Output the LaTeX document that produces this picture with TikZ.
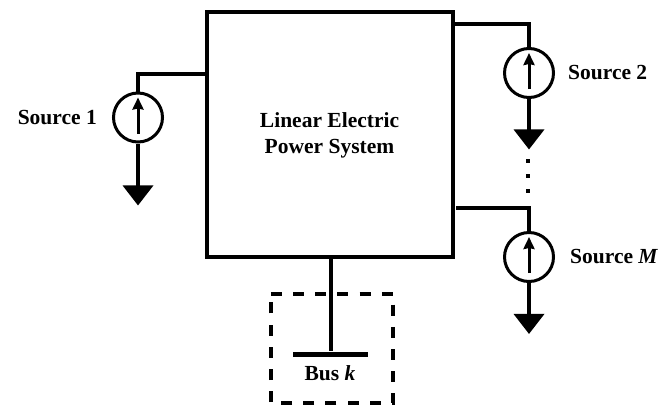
\documentclass[tikz,border=0pt]{standalone}
\usepackage{fontspec}
\setmainfont{Liberation Serif}
\usetikzlibrary{arrows.meta,shapes.geometric}

\begin{document}
\begin{tikzpicture}[x=1pt,y=-1pt,>={Stealth[length=12pt,width=11pt,inset=1pt]}]
	\tikzset{
	%Define style for the system box
	sysbox/.style={
		rectangle,
		draw=black,
		line width=3.5pt,
		minimum width=246pt,
		minimum height=245pt},
	% Define style for sources
	srcnode/.style={
		circle,
		draw=black,
		line width=3pt,
		minimum size=49pt,
		inner sep=0pt},
	gndnode/.style={
		isosceles triangle,
		isosceles triangle stretches,
		shape border rotate=270,
		fill=black,
		minimum width=31pt,
		minimum height=20pt,
		inner sep=0pt},
	wire/.style={line width=3.5pt},
	lbl/.style={font=\fontsize{21.5}{26}\selectfont\bfseries,inner sep=0pt},
	dotnode/.style={rectangle,fill=black,minimum size=4pt,inner sep=0pt}
	}
	\useasboundingbox (0,0) rectangle (660,405);

	%system box
	\node[sysbox] at (330,134.5) (sys) {};
	\node[lbl,align=center] at (329.5,135) (systxt) {Linear Electric\\Power System};

	%source 1
	\coordinate (w1) at (207,74);
	\node[srcnode] at (138,117.5) (src1) {};
	\node[gndnode] at (138,193) (gnd1) {};
	\node[lbl,anchor=east] at (97,118) (lab1) {Source 1};
	%source 2
	\coordinate (w2) at (453,24);
	\node[srcnode] at (529,73) (src2) {};
	\node[gndnode] at (529,137) (gnd2) {};
	\node[lbl,anchor=west] at (568,73) (lab2) {Source 2};
	%source M
	\coordinate (w3) at (456,208);
	\node[srcnode] at (529,257) (src3) {};
	\node[gndnode] at (529,321.5) (gnd3) {};
	\node[lbl,anchor=west] at (570,257) (lab3) {Source \textit{M}};

	%wires and inner arrows
	\draw[wire] (w1) -| (src1);
	\draw[wire] (w2) -| (src2);
	\draw[wire] (w3) -| (src3);
	\foreach \i in {1,2,3} {
		\draw[wire] (src\i) -- (src\i |- gnd\i);
		\draw[line width=3pt,->] ([yshift=-16pt]src\i.center) -- ([yshift=20pt]src\i.center);
	}

	%dots between sources
	\node[dotnode] at (528,161) (d1) {};
	\node[dotnode] at (528,176) (d2) {};
	\node[dotnode] at (528,191) (d3) {};

	%bus k
	\node[minimum width=122pt,minimum height=109pt,inner sep=0pt] at (332,348.5) (area) {};
	\draw[line width=3.5pt,dash pattern=on 11pt off 11.2pt] (area.north west) -- (area.north east) -- (area.south east) -- (area.south west) -- cycle;
	\node[rectangle,fill=black,minimum width=75pt,minimum height=5pt,inner sep=0pt] at (330.5,354) (bus) {};
	\node[lbl] at (330,373) (buslab) {Bus \textit{k}};
	\draw[line width=4pt] (sys.south -| bus) -- (bus);
\end{tikzpicture}
\end{document}
